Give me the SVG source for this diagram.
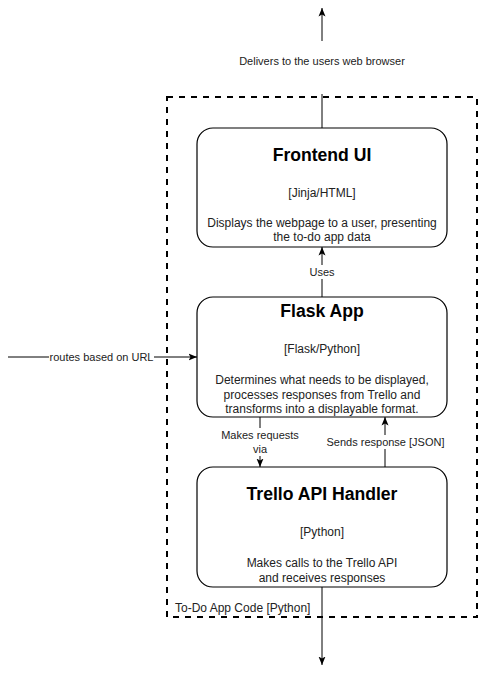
<svg xmlns="http://www.w3.org/2000/svg" width="479" height="677" viewBox="0 0 479 677">
<defs>
<style>
.box{fill:#fff;stroke:#000;stroke-width:1.2}
.title{font-family:"Liberation Sans",Arial,sans-serif;font-size:17.6px;font-weight:bold;fill:#000;text-anchor:middle}
.txt{font-family:"Liberation Sans",Arial,sans-serif;font-size:12px;fill:#222;text-anchor:middle}
.lbl{font-family:"Liberation Sans",Arial,sans-serif;font-size:11px;fill:#222;text-anchor:middle}
.edge{fill:none;stroke:#000;stroke-width:1}
.bg{fill:#fff}
</style>
<marker id="arr" markerUnits="userSpaceOnUse" markerWidth="9" markerHeight="8" viewBox="0 0 9 8" refX="8.5" refY="4" orient="auto">
<path d="M0,0.5 L8.5,4 L0,7.5 L2,4 Z" fill="#000"/>
</marker>
</defs>
<rect width="479" height="677" fill="#fff"/>

<g id="container">
<rect x="167" y="97" width="310" height="520" fill="none" stroke="#000" stroke-width="2" stroke-dasharray="6 6"/>
<text x="175" y="612" font-family="'Liberation Sans',Arial,sans-serif" font-size="12" fill="#222">To-Do App Code [Python]</text>
</g>

<g id="frontend">
<rect class="box" x="197" y="128" width="250" height="119" rx="16" ry="16"/>
<text class="title" x="322" y="161">Frontend UI</text>
<text class="txt" x="322" y="197">[Jinja/HTML]</text>
<text class="txt" x="322" y="227">Displays the webpage to a user, presenting</text>
<text class="txt" x="322" y="241">the to-do app data</text>
</g>

<g id="flask">
<rect class="box" x="197" y="297" width="250" height="120" rx="16" ry="16"/>
<text class="title" x="322" y="317">Flask App</text>
<text class="txt" x="322" y="353">[Flask/Python]</text>
<text class="txt" x="322" y="384">Determines what needs to be displayed,</text>
<text class="txt" x="322" y="399">processes responses from Trello and</text>
<text class="txt" x="322" y="413">transforms into a displayable format.</text>
</g>

<g id="trello">
<rect class="box" x="197" y="467" width="250" height="120" rx="16" ry="16"/>
<text class="title" x="322" y="500">Trello API Handler</text>
<text class="txt" x="322" y="536">[Python]</text>
<text class="txt" x="322" y="567">Makes calls to the Trello API</text>
<text class="txt" x="322" y="582">and receives responses</text>
</g>

<g id="connectors">
<path class="edge" d="M322,128 V94" stroke="#555"/>
<path class="edge" d="M322,41 V8" marker-end="url(#arr)"/>
<text class="lbl" x="322" y="65">Delivers to the users web browser</text>

<path class="edge" d="M322,297 V247" marker-end="url(#arr)"/>
<rect class="bg" x="307" y="265" width="30" height="14"/>
<text class="lbl" x="322" y="276">Uses</text>

<path class="edge" d="M8,357 H197" marker-end="url(#arr)"/>
<rect class="bg" x="49" y="350" width="105" height="14"/>
<text class="lbl" x="101.5" y="361">routes based on URL</text>

<path class="edge" d="M260,417 V467" marker-end="url(#arr)"/>
<rect class="bg" x="219" y="428" width="82" height="28"/>
<text class="lbl" x="260" y="439">Makes requests</text>
<text class="lbl" x="260" y="453">via</text>

<path class="edge" d="M385,467 V417" marker-end="url(#arr)"/>
<rect class="bg" x="326" y="435" width="119" height="14"/>
<text class="lbl" x="385.5" y="446">Sends response [JSON]</text>

<path class="edge" d="M322,587 V665" marker-end="url(#arr)"/>
</g>
</svg>
